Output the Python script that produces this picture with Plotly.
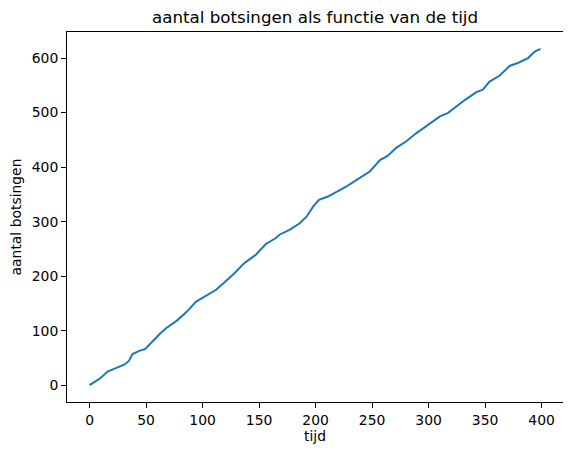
import plotly.graph_objects as go

tijd = [0, 4, 9, 16, 24, 31, 35, 38, 44, 49, 57, 62, 68, 77, 85, 88, 94, 100, 105, 112,
        119, 128, 137, 147, 156, 165, 168, 177, 186, 192, 198, 203, 211, 218, 227, 236,
        244, 248, 257, 264, 271, 280, 289, 300, 310, 317, 324, 332, 342, 348, 354, 363,
        372, 379, 388, 394, 399]
botsingen = [0, 5, 12, 25, 32, 38, 45, 57, 63, 66, 83, 94, 105, 118, 133, 139, 153, 160, 166, 175,
             188, 205, 224, 239, 259, 270, 276, 285, 297, 309, 328, 340, 346, 354, 364, 376,
             386, 392, 413, 421, 435, 447, 462, 478, 493, 499, 510, 523, 537, 542, 557, 568,
             586, 591, 600, 612, 617]

x_ticks = [0, 50, 100, 150, 200, 250, 300, 350, 400]
y_ticks = [0, 100, 200, 300, 400, 500, 600]

FONT = "DejaVu Sans"

fig = go.Figure()
fig.add_trace(go.Scatter(x=tijd, y=botsingen, mode="lines",
                         line=dict(color="#1f77b4", width=2)))

xmin, xmax = min(tijd), max(tijd)
ymin, ymax = min(botsingen), max(botsingen)
xpad = (xmax - xmin) * 0.05
ypad = (ymax - ymin) * 0.05

axis_common = dict(showgrid=False, zeroline=False, showline=True, linecolor="black",
                   linewidth=1, mirror=True, ticks="outside", ticklen=5, tickwidth=1,
                   tickcolor="black", automargin=False,
                   tickfont=dict(family=FONT, size=13.9, color="black"))

fig.update_layout(
    width=563, height=447,
    margin=dict(l=59, r=8, t=24, b=53),
    paper_bgcolor="white", plot_bgcolor="white",
    showlegend=False,
    title=dict(text="aantal botsingen als functie van de tijd", x=0.5, xref="paper",
               y=1, yref="paper", yanchor="bottom", pad=dict(b=9),
               font=dict(family=FONT, size=16.7, color="black")),
    xaxis=dict(range=[xmin - xpad, xmax + xpad], tickvals=x_ticks,
               title=dict(text="tijd", standoff=4, font=dict(family=FONT, size=13.9, color="black")),
               **axis_common),
    yaxis=dict(range=[ymin - ypad, ymax + ypad], tickvals=y_ticks,
               title=dict(text="aantal botsingen", standoff=8, font=dict(family=FONT, size=13.9, color="black")),
               **axis_common),
)

fig.write_html("out.html")
